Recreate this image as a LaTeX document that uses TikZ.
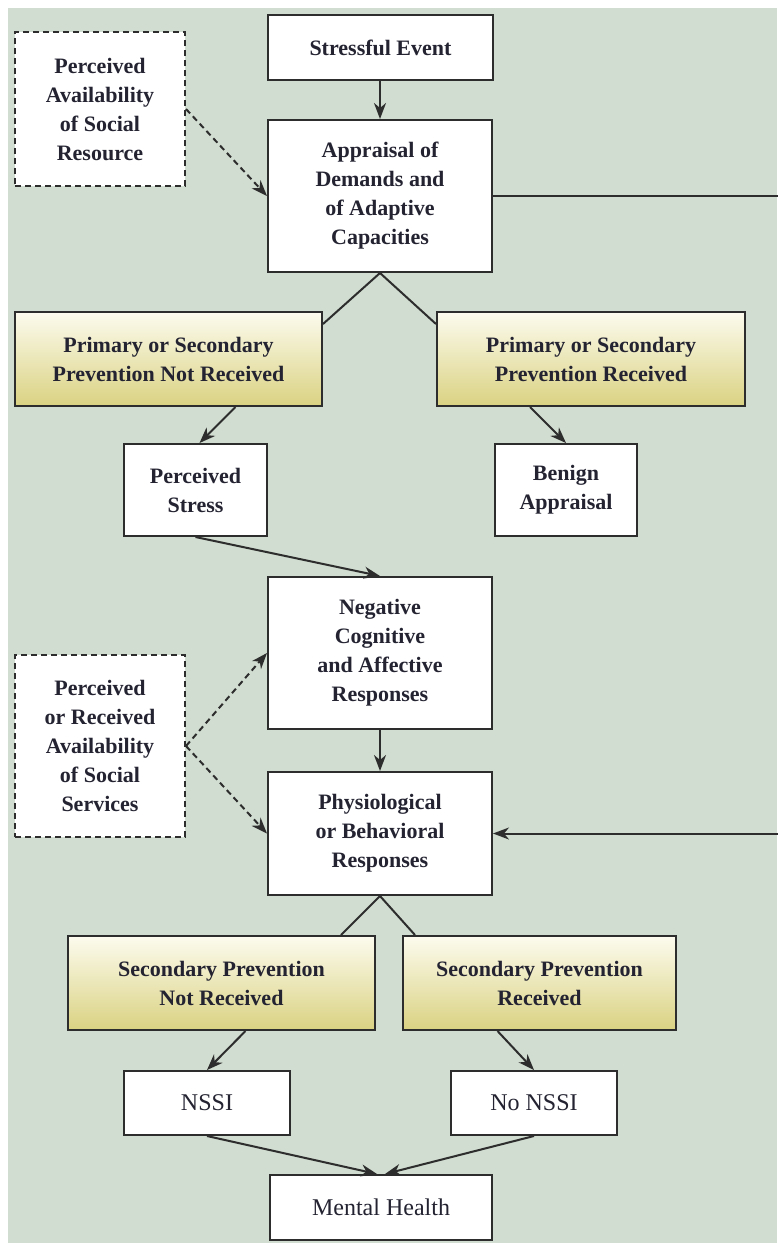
\documentclass[tikz,border=0pt]{standalone}
\usepackage{fontspec}
\setmainfont{Liberation Serif}
\usepackage{tikz}
\usetikzlibrary{arrows.meta, positioning}
\definecolor{panel}{RGB}{208,221,208}
\definecolor{ink}{RGB}{35,35,50}
\definecolor{framec}{RGB}{45,45,45}
\definecolor{prevtop}{RGB}{252,251,238}
\definecolor{prevbot}{RGB}{218,210,130}

\begin{document}
\begin{tikzpicture}[x=1pt, y=-1pt,
    box/.style={draw=framec, fill=white, line width=2pt, align=center, text=ink,
                inner sep=0pt, font=\bfseries\fontsize{22}{29}\selectfont},
    prev/.style={box, top color=prevtop, bottom color=prevbot},
    dashbox/.style={box, dash pattern=on 6pt off 4pt},
    outcome/.style={box, font=\fontsize{24}{29}\selectfont},
    link/.style={draw=framec, line width=2pt},
    arr/.style={link, -{Stealth[length=16pt,width=12pt,inset=5pt]}},
    dasharr/.style={arr, dash pattern=on 6pt off 4pt}]
    \useasboundingbox (0,0) rectangle (777,1243);
    \fill[panel] (8,8) rectangle (777,1243);

    \node[box, minimum width=225pt, minimum height=65pt] (event) at (380.5,47.5) {Stressful Event};
    \node[dashbox, minimum width=170pt, minimum height=154pt] (res) at (100,109)
      {Perceived\\Availability\\of Social\\Resource};
    \node[box, minimum width=224pt, minimum height=152pt] (appr) at (380,196)
      {Appraisal of\\Demands and\\of Adaptive\\Capacities};
    \node[prev, minimum width=307pt, minimum height=94pt] (pnr) at (168.5,359)
      {Primary or Secondary\\Prevention Not Received};
    \node[prev, minimum width=308pt, minimum height=94pt] (pr) at (591,359)
      {Primary or Secondary\\Prevention Received};
    \node[box, minimum width=143pt, minimum height=92pt] (pstress) at (195.5,490) {Perceived\\Stress};
    \node[box, minimum width=142pt, minimum height=92pt] (benign) at (566,490) {Benign\\Appraisal};
    \node[box, minimum width=224pt, minimum height=152pt] (neg) at (380,653)
      {Negative\\Cognitive\\and Affective\\Responses};
    \node[dashbox, minimum width=170pt, minimum height=182pt] (serv) at (100,746)
      {Perceived\\or Received\\Availability\\of Social\\Services};
    \node[box, minimum width=224pt, minimum height=123pt] (phys) at (380,833.5)
      {Physiological\\or Behavioral\\Responses};
    \node[prev, minimum width=307pt, minimum height=94pt] (snr) at (221.5,983)
      {Secondary Prevention\\Not Received};
    \node[prev, minimum width=273pt, minimum height=94pt] (sr) at (539.5,983)
      {Secondary Prevention\\Received};
    \node[outcome, minimum width=166pt, minimum height=64pt] (nssi) at (207,1103) {NSSI};
    \node[outcome, minimum width=166pt, minimum height=64pt] (nonssi) at (534,1103) {No NSSI};
    \node[outcome, minimum width=222pt, minimum height=65pt] (health) at (381,1207.5) {Mental Health};
    \coordinate (rim) at (782,196);

    % main chain
    \draw[arr] (event.south -| appr.north) -- (appr.north);
    \draw[link] ([yshift=-13pt]pnr.north east) -- (appr.south) -- ([yshift=-13pt]pr.north west);
    \draw[arr] ([xshift=67pt]pnr.south) -- ([xshift=4pt]pstress.north);
    \draw[arr] ([xshift=-61pt]pr.south) -- (benign.north);
    \draw[arr] (pstress.south) -- (neg.north);
    \draw[arr] (neg.south) -- (phys.north);
    \draw[arr] (appr.east) -- (rim) |- (phys.east);
    \draw[link] ([xshift=-35pt]snr.north east) -- (phys.south) -- ([xshift=13pt]sr.north west);
    \draw[arr] ([xshift=24pt]snr.south) -- (nssi.north);
    \draw[arr] ([xshift=-42pt]sr.south) -- (nonssi.north);
    \draw[arr] (nssi.south) -- ([xshift=-4pt]health.north);
    \draw[arr] (nonssi.south) -- ([xshift=4pt]health.north);
    % social support
    \draw[dasharr] (res.east) -- (appr.west);
    \draw[dasharr] (serv.east) -- (neg.west);
    \draw[dasharr] (serv.east) -- (phys.west);
\end{tikzpicture}
\end{document}
